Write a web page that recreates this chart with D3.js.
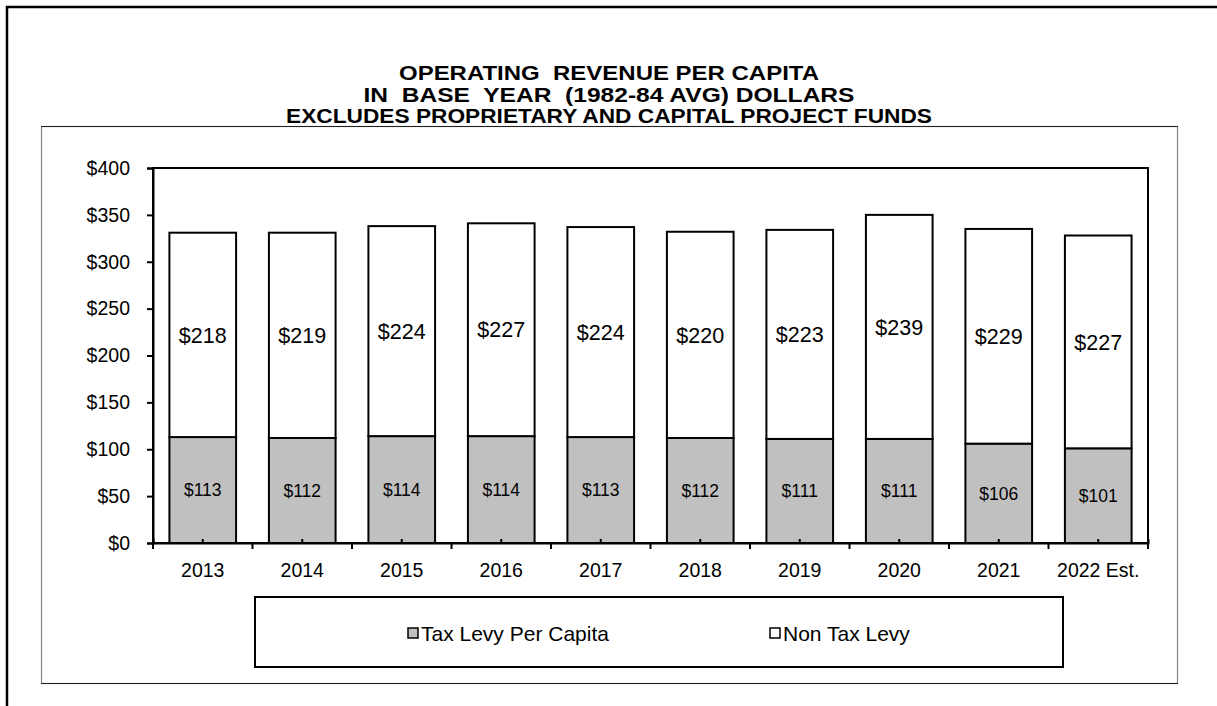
<!DOCTYPE html>
<html>
<head>
<meta charset="utf-8">
<script src="https://cdn.jsdelivr.net/npm/d3@7.9.0/dist/d3.min.js"></script>
<style>
  body { margin: 0; background: #fff; }
  svg { display: block; font-family: "Liberation Sans", Arial, sans-serif; }
</style>
</head>
<body>
<svg id="chart" width="1217" height="706"></svg>
<script>
const years = ['2013', '2014', '2015', '2016', '2017', '2018', '2019', '2020', '2021', '2022 Est.'];
const taxLevy = [113, 112, 114, 114, 113, 112, 111, 111, 106, 101];
const nonTaxLevy = [218, 219, 224, 227, 224, 220, 223, 239, 229, 227];
const yTicks = [0, 50, 100, 150, 200, 250, 300, 350, 400];
const titleLines = [
    'OPERATING  REVENUE PER CAPITA',
    'IN  BASE  YEAR  (1982-84 AVG) DOLLARS',
    'EXCLUDES PROPRIETARY AND CAPITAL PROJECT FUNDS'
];
const legendLabels = ['Tax Levy Per Capita', 'Non Tax Levy'];
const colors = ['#c0c0c0', '#ffffff'];

const svg = d3.select('#chart');

// outer frame (only left + top visible in the picture)
svg.append('path')
    .attr('d', 'M7,712 V7 H1225')
    .attr('fill', 'none')
    .attr('stroke', '#000')
    .attr('stroke-width', 2.5);

// chart area box
svg.append('rect')
    .attr('x', 41.5).attr('y', 126.5)
    .attr('width', 1136).attr('height', 557)
    .attr('fill', '#fff')
    .attr('stroke', '#888')
    .attr('stroke-width', 1.2);
svg.append('line').attr('x1', 41).attr('x2', 1178).attr('y1', 126.5).attr('y2', 126.5).attr('stroke', '#222');
svg.append('line').attr('x1', 41).attr('x2', 1178).attr('y1', 683.5).attr('y2', 683.5).attr('stroke', '#222');

// title - widths matched to the original's slightly stretched bold face
const titleWidths = [420, 491, 646];
svg.append('g').selectAll('text')
    .data(titleLines)
    .join('text')
    .attr('x', 609)
    .attr('y', (d, i) => 80 + i * 21.5)
    .attr('text-anchor', 'middle')
    .attr('font-weight', 'bold')
    .attr('font-size', 20)
    .attr('textLength', (d, i) => titleWidths[i])
    .attr('lengthAdjust', 'spacingAndGlyphs')
    .style('white-space', 'pre')
    .text(d => d);

const margin = {left: 153, right: 1148, top: 168, bottom: 543};

const x = d3.scaleBand()
    .domain(years)
    .range([margin.left, margin.right])
    .paddingInner(0.33)
    .paddingOuter(0.165);

const y = d3.scaleLinear()
    .domain([0, 400])
    .range([margin.bottom, margin.top]);

const stacked = d3.stack().keys([0, 1])(years.map((yr, i) => ({0: taxLevy[i], 1: nonTaxLevy[i], year: yr})));

// bars
stacked.forEach((layer, k) => {
    svg.append('g').selectAll('rect')
        .data(layer)
        .join('rect')
        .attr('x', d => x(d.data.year))
        .attr('y', d => y(d[1]))
        .attr('width', x.bandwidth())
        .attr('height', d => y(d[0]) - y(d[1]))
        .attr('fill', colors[k])
        .attr('stroke', '#000')
        .attr('stroke-width', 2);

    svg.append('g').selectAll('text')
        .data(layer)
        .join('text')
        .attr('x', d => x(d.data.year) + x.bandwidth() / 2)
        .attr('y', d => y((d[0] + d[1]) / 2))
        .attr('dy', '0.36em')
        .attr('text-anchor', 'middle')
        .attr('font-size', k === 0 ? 17.5 : 21.5)
        .text(d => '$' + (d[1] - d[0]));
});

// plot frame
svg.append('rect')
    .attr('x', margin.left).attr('y', margin.top)
    .attr('width', margin.right - margin.left)
    .attr('height', margin.bottom - margin.top)
    .attr('fill', 'none')
    .attr('stroke', '#000')
    .attr('stroke-width', 2);

// y axis
const yAxis = svg.append('g')
    .attr('transform', `translate(${margin.left},0)`)
    .call(d3.axisLeft(y).tickValues(yTicks).tickFormat(d => '$' + d).tickSize(6).tickPadding(17));
yAxis.select('.domain').attr('stroke-width', 2);
yAxis.selectAll('.tick line').attr('stroke-width', 2);
yAxis.selectAll('text').attr('font-size', 19.5).attr('font-family', 'Liberation Sans, Arial, sans-serif').attr('fill', '#000');

// x axis
const xAxis = svg.append('g')
    .attr('transform', `translate(0,${margin.bottom})`)
    .call(d3.axisBottom(x).tickSize(-4).tickPadding(20));
xAxis.select('.domain').attr('stroke-width', 2);
xAxis.selectAll('.tick line').attr('stroke-width', 2);
xAxis.selectAll('text').attr('font-size', 19.5).attr('font-family', 'Liberation Sans, Arial, sans-serif').attr('fill', '#000');

// boundary ticks between categories
const bounds = d3.range(years.length + 1).map(i => margin.left + i * x.step());
xAxis.append('g').selectAll('line')
    .data(bounds)
    .join('line')
    .attr('x1', d => d).attr('x2', d => d)
    .attr('y1', 0).attr('y2', 6)
    .attr('stroke', '#000')
    .attr('stroke-width', 2);

// legend
svg.append('rect')
    .attr('x', 255).attr('y', 597)
    .attr('width', 808).attr('height', 70)
    .attr('fill', '#fff')
    .attr('stroke', '#000')
    .attr('stroke-width', 2);

const legendX = [408, 770];
const legend = svg.append('g').selectAll('g')
    .data(legendLabels)
    .join('g')
    .attr('transform', (d, i) => `translate(${legendX[i]},633)`);
legend.append('rect')
    .attr('x', 0).attr('y', -5)
    .attr('width', 10).attr('height', 10)
    .attr('fill', (d, i) => colors[i])
    .attr('stroke', '#000')
    .attr('stroke-width', 1.5);
legend.append('text')
    .attr('x', 13)
    .attr('dy', '0.36em')
    .attr('font-size', 21)
    .text(d => d);
</script>
</body>
</html>
